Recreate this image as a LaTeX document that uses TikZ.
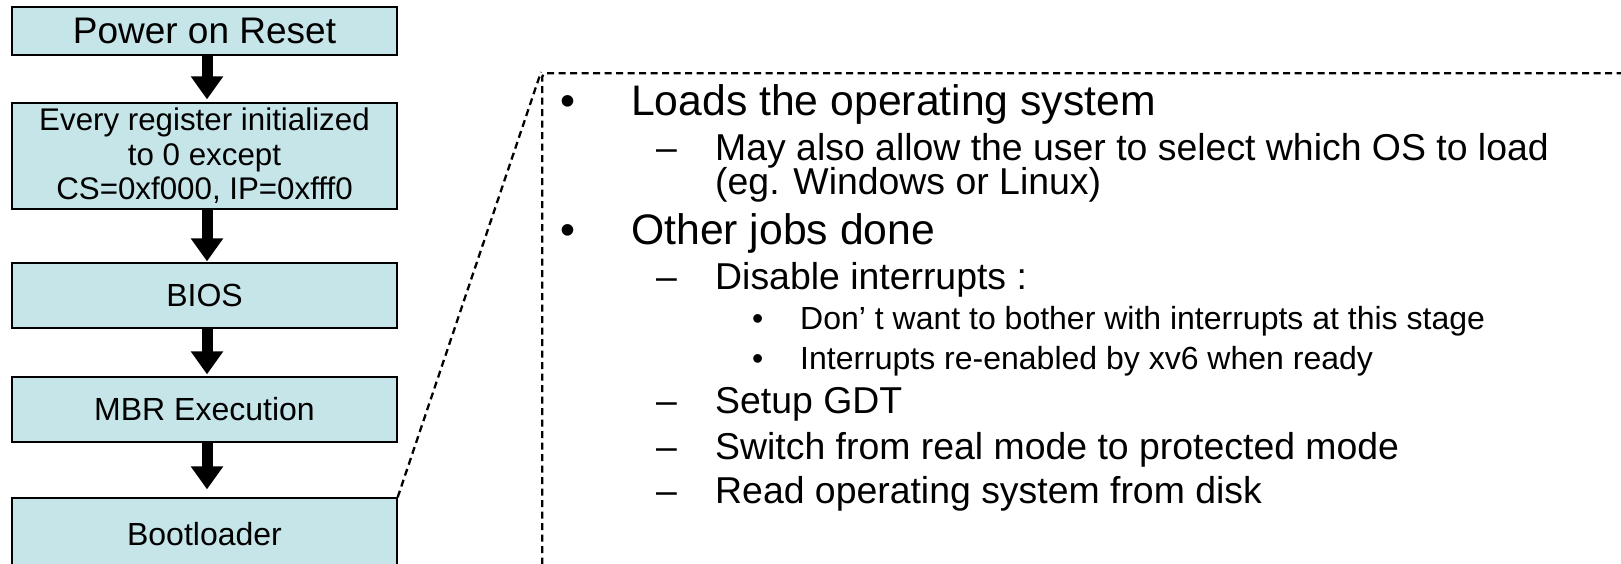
\documentclass[tikz,border=0pt]{standalone}
\usepackage{fontspec}
\setmainfont{Liberation Sans}
\usetikzlibrary{arrows.meta}
\definecolor{boxfill}{RGB}{197,229,232}
\tikzset{
  flowbox/.style={draw=black, line width=1.3pt, fill=boxfill, minimum width=385pt,
    inner sep=0pt, align=center, text=black, font=\fontsize{32}{34.5}\selectfont},
  flowarrow/.style={line width=11pt, -{Triangle[width=31pt,length=23pt]}},
  linkline/.style={dash pattern=on 7pt off 4.5pt, line width=2.3pt},
  lvlone/.style={anchor=base west, inner sep=0pt, font=\fontsize{42.7}{50}\selectfont},
  lvltwo/.style={anchor=base west, inner sep=0pt, font=\fontsize{37.4}{44}\selectfont},
  lvlthree/.style={anchor=base west, inner sep=0pt, font=\fontsize{32}{38}\selectfont}
}
\begin{document}
\begin{tikzpicture}[x=1pt,y=-1pt]
\useasboundingbox (0,0) rectangle (1621,563);
\fill[white] (0,0) rectangle (1621,563);

% flow boxes
\node[flowbox, minimum height=48pt, font=\fontsize{37}{40}\selectfont] (por) at (204.5,31) {Power on Reset};
\node[flowbox, minimum height=106pt, font=\fontsize{31.3}{34.5}\selectfont] (reg) at (204.5,156) {Every register initialized\\to 0 except\\CS=0xf000, IP=0xfff0};
\node[flowbox, minimum height=65pt] (bios) at (204.5,295.5) {BIOS};
\node[flowbox, minimum height=65pt] (mbr) at (204.5,409.5) {MBR Execution};
\node[flowbox, minimum height=72pt] (boot) at (204.5,534) {Bootloader};

% arrows
\draw[flowarrow] ([xshift=2.5pt]por.south) -- ([xshift=2.5pt,yshift=3pt]reg.north);
\draw[flowarrow] ([xshift=2.5pt]reg.south) -- ([xshift=2.5pt,yshift=1pt]bios.north);
\draw[flowarrow] ([xshift=2.5pt]bios.south) -- ([xshift=2.5pt,yshift=2pt]mbr.north);
\draw[flowarrow] ([xshift=2.5pt]mbr.south) -- ([xshift=2.5pt,yshift=8pt]boot.north);

% dashed panel
\node[draw, linkline, rounded corners=4pt, anchor=north west, minimum width=1120pt,
      minimum height=540pt, inner sep=0pt] (panel) at (541,72) {};
\draw[linkline] (boot.north east) -- (panel.north west);

% list text
\node[lvlone] (b1) at (560,115) {•};
\node[lvlone] (t1) at (631,115) {Loads the operating system};
\node[lvltwo] (d1) at (656,160) {–};
\node[lvltwo] (t2) at (715,160) {May also allow the user to select which OS to load};
\node[lvltwo] (t2b) at (715,194) {(eg. Windows or Linux)};
\node[lvlone] (b2) at (560,244) {•};
\node[lvlone] (t3) at (631,244) {Other jobs done};
\node[lvltwo] (d2) at (656,289) {–};
\node[lvltwo] (t4) at (715,289) {Disable interrupts :};
\node[lvlthree] (b3) at (752,329) {•};
\node[lvlthree] (t5) at (800,329) {Don’ t want to bother with interrupts at this stage};
\node[lvlthree] (b4) at (752,369) {•};
\node[lvlthree] (t6) at (800,369) {Interrupts re-enabled by xv6 when ready};
\node[lvltwo] (d3) at (656,413) {–};
\node[lvltwo] (t7) at (715,413) {Setup GDT};
\node[lvltwo] (d4) at (656,459) {–};
\node[lvltwo] (t8) at (715,459) {Switch from real mode to protected mode};
\node[lvltwo] (d5) at (656,503) {–};
\node[lvltwo] (t9) at (715,503) {Read operating system from disk};
\end{tikzpicture}
\end{document}
